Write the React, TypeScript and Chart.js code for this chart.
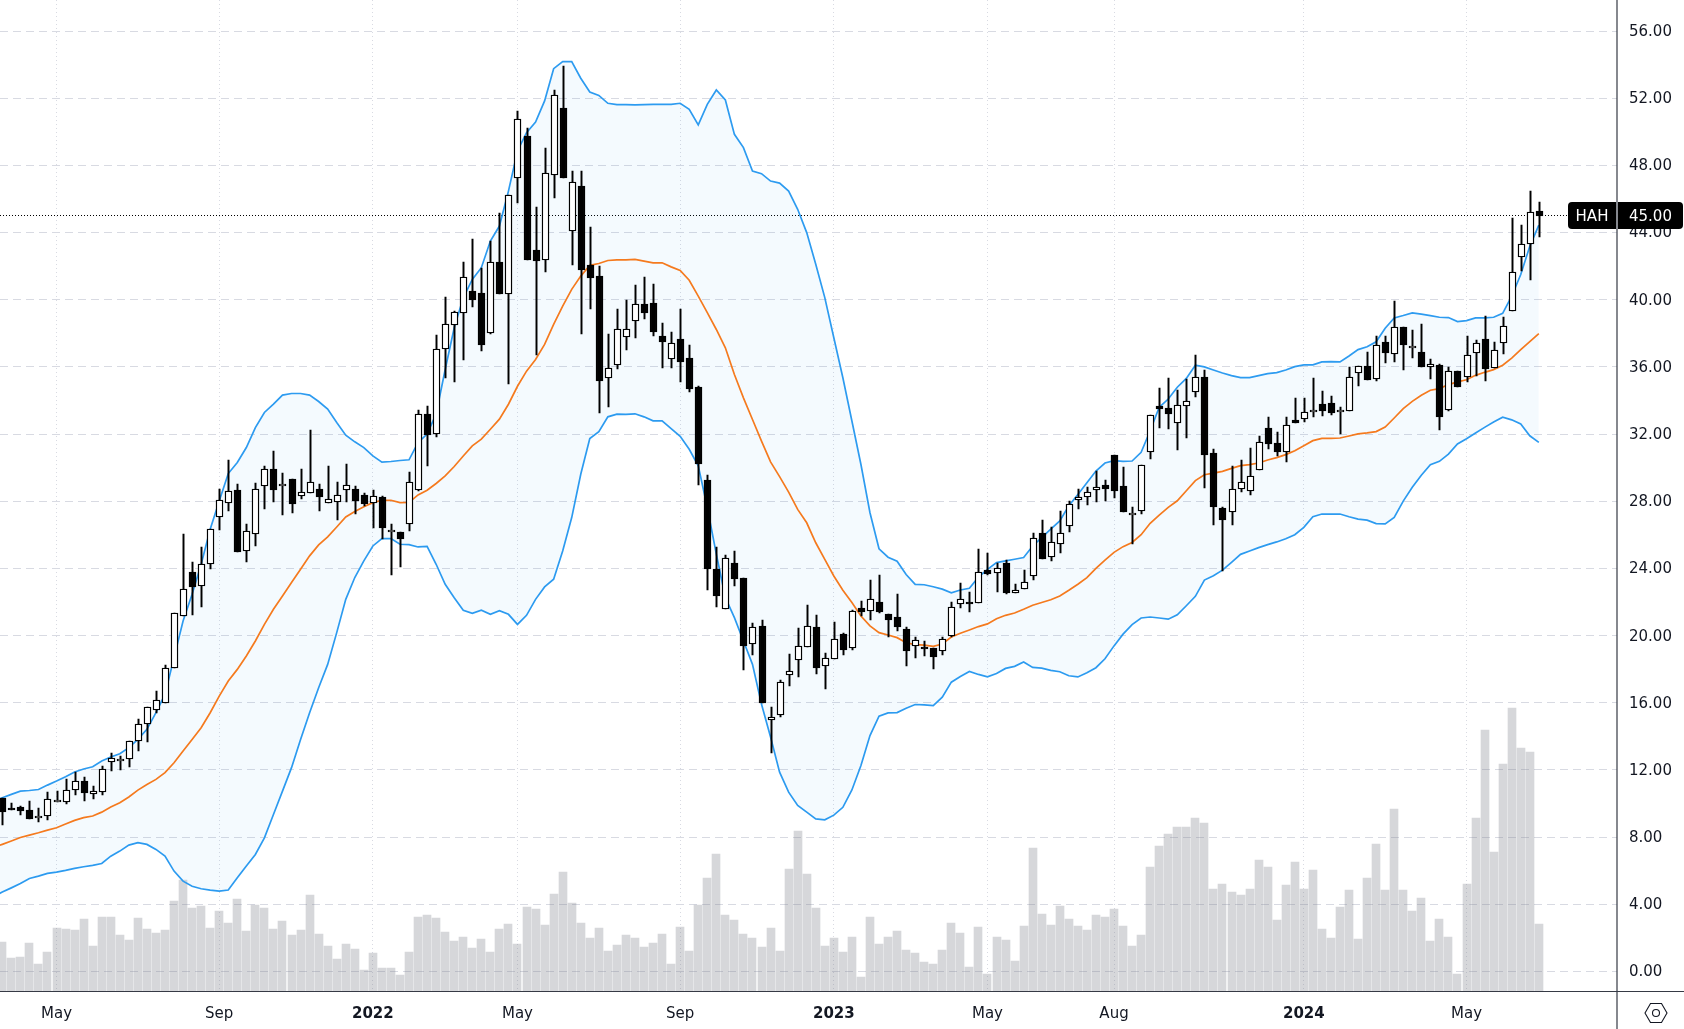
import React, { useEffect, useRef } from "react";
import { Chart, registerables } from "chart.js";

Chart.register(...registerables);

const symbol = "HAH";
const lastPrice = 45.0;

const monthTickIndex = [6, 24, 41, 57, 75, 92, 109, 123, 144, 162];
const monthTickLabel = ["May", "Sep", "2022", "May", "Sep", "2023", "May", "Aug", "2024", "May"];
const priceTicks = [0, 4, 8, 12, 16, 20, 24, 28, 32, 36, 40, 44, 48, 52, 56];

const opens = [
  10.31,9.71,9.79,9.61,9.26,9.27,10.07,10.11,10.82,11.34,
  10.59,10.71,12.49,12.51,12.67,13.70,14.72,15.55,15.97,18.09,
  21.15,23.79,22.94,24.25,27.05,27.88,28.68,25.02,26.04,28.90,
  29.91,29.00,29.31,28.30,28.48,28.72,27.88,27.94,28.66,28.72,
  28.36,27.88,28.24,26.20,26.16,26.63,28.70,33.17,31.98,37.04,
  38.47,39.19,40.50,40.38,38.05,42.22,40.32,47.23,49.73,42.94,
  42.34,47.41,51.40,44.07,46.75,42.05,41.39,35.37,36.09,37.76,
  38.71,39.72,39.78,37.87,36.50,37.64,36.56,34.78,29.26,23.95,
  21.57,24.31,23.42,19.48,20.56,14.96,15.29,17.64,18.53,19.30,
  20.50,18.17,18.59,20.08,19.25,21.63,21.45,21.99,21.27,21.09,
  20.38,19.36,19.30,19.25,19.07,20.00,21.87,21.99,21.93,23.89,
  23.71,24.31,22.52,22.76,23.54,26.10,24.67,25.44,26.51,28.06,
  28.24,28.66,28.97,30.76,28.91,27.18,27.42,30.93,33.68,33.56,
  32.66,33.66,34.51,35.40,30.88,27.60,27.36,28.73,28.61,29.86,
  32.37,31.47,30.93,32.84,32.90,33.34,33.80,33.86,33.32,33.38,
  35.64,36.06,35.28,37.49,36.78,38.36,37.15,36.91,36.02,36.14,
  33.43,35.78,35.42,36.85,37.68,35.96,37.45,39.35,42.57,43.35,
  45.31,
];

const closes = [
  9.51,9.63,9.55,9.10,9.29,10.25,10.19,10.78,11.34,10.65,
  10.72,12.04,12.69,12.63,13.70,14.72,15.73,16.15,18.05,21.33,
  22.76,22.92,24.25,26.34,28.06,28.60,25.00,26.22,28.72,29.91,
  28.66,29.04,27.83,28.54,29.14,28.28,28.12,28.36,28.96,28.04,
  27.81,28.30,26.38,26.24,25.78,29.14,33.17,31.96,37.04,38.53,
  39.30,41.33,40.00,37.32,42.22,40.36,46.22,50.74,42.38,42.32,
  47.53,52.17,47.27,46.99,41.79,41.31,35.17,35.91,38.23,38.23,
  39.72,39.23,38.09,37.50,37.40,36.31,34.70,30.23,23.99,22.38,
  24.61,23.40,19.40,20.50,16.01,15.13,17.22,17.87,19.36,20.56,
  18.09,18.65,19.78,19.17,21.45,21.43,22.16,21.39,20.95,20.54,
  19.11,19.72,19.19,18.75,19.78,21.69,22.16,21.91,23.77,23.69,
  24.01,22.56,22.70,23.18,25.80,24.59,25.56,26.10,27.82,28.24,
  28.54,28.84,28.71,28.59,27.34,27.22,30.16,33.14,33.48,33.18,
  33.74,33.97,35.40,30.74,27.64,26.86,28.73,29.15,29.51,31.53,
  31.39,30.92,32.54,32.64,33.32,33.38,33.36,33.24,33.36,35.40,
  36.06,35.22,37.31,36.81,38.39,37.31,37.27,36.00,36.20,33.02,
  35.78,34.82,36.73,37.45,35.88,37.03,38.46,41.67,43.35,45.25,
  45.00,
];

const highs = [
  10.31,10.03,9.83,10.15,9.75,10.71,10.74,11.48,11.88,11.58,
  11.04,12.23,13.01,12.83,13.70,15.03,15.73,16.70,18.25,21.33,
  26.06,24.39,25.28,26.34,28.74,30.47,29.02,26.65,29.08,30.09,
  31.00,29.69,29.31,29.91,32.25,29.02,30.11,29.16,30.23,28.90,
  28.48,28.66,28.32,26.65,26.16,29.75,33.43,33.66,37.89,40.16,
  39.36,42.24,43.61,41.91,43.50,45.14,46.22,51.24,50.21,45.50,
  49.04,52.47,53.90,47.65,47.65,44.31,41.99,37.99,39.44,39.96,
  40.87,41.33,40.91,38.59,38.11,39.48,37.28,34.84,29.57,25.26,
  24.79,25.02,23.42,20.73,20.91,15.73,17.34,18.89,20.44,21.81,
  21.21,18.95,20.79,20.14,21.51,22.05,23.30,23.59,21.27,22.46,
  20.50,19.90,19.66,19.25,19.90,21.99,23.12,22.58,25.14,24.91,
  24.31,24.49,23.06,23.89,26.10,26.87,26.45,27.41,28.00,28.72,
  28.84,29.79,29.29,30.76,30.06,27.64,30.16,33.14,34.77,35.36,
  34.65,35.30,36.74,35.84,31.13,27.68,30.12,30.48,31.19,31.89,
  33.04,32.15,33.02,34.18,34.18,35.36,34.59,34.27,33.64,36.00,
  36.06,36.89,37.85,37.87,39.91,38.36,38.18,38.58,36.49,36.20,
  36.02,35.78,37.82,37.62,39.06,37.51,39.00,44.85,44.44,46.50,
  45.80,
];

const lows = [
  8.72,9.63,9.31,9.10,8.92,9.02,10.07,9.99,10.51,10.17,
  10.29,10.53,11.94,12.00,12.17,13.15,13.68,15.39,15.97,18.09,
  21.15,21.25,21.73,23.99,26.30,27.43,25.00,24.41,25.36,27.57,
  27.98,27.21,27.33,28.16,28.48,27.43,27.88,26.91,27.98,27.27,
  27.73,26.43,25.74,23.63,24.11,26.24,28.62,30.11,31.84,35.35,
  35.11,36.43,39.58,36.96,37.97,40.36,34.99,45.78,42.38,36.72,
  41.67,46.08,47.27,42.09,37.97,39.46,33.27,33.62,35.89,37.02,
  37.74,38.87,37.85,35.95,35.95,35.11,34.52,28.98,22.74,21.73,
  21.57,22.98,17.97,18.87,16.01,12.99,15.17,17.02,17.56,19.30,
  17.74,16.84,18.59,18.87,19.13,21.19,20.95,21.33,19.94,20.30,
  18.21,18.69,18.81,18.03,18.87,19.90,21.67,21.43,21.93,23.59,
  22.62,22.50,22.52,22.76,23.34,24.59,24.47,24.93,26.20,27.57,
  27.75,27.98,28.03,28.17,27.34,25.43,27.22,30.50,32.35,32.29,
  31.03,31.75,34.19,28.77,26.57,23.84,26.57,28.53,28.35,29.86,
  31.09,30.72,30.32,32.64,32.70,33.00,33.10,33.14,32.03,33.38,
  34.85,35.22,35.16,36.22,36.29,35.82,36.53,36.00,35.28,32.24,
  33.37,34.82,35.10,35.48,35.16,35.96,36.77,39.35,41.72,41.18,
  43.74,
];

const volumes = [
  2.94,1.99,2.05,2.88,1.63,2.34,3.77,3.71,3.65,4.31,
  2.70,4.43,4.43,3.36,3.06,4.37,3.71,3.48,3.65,5.38,
  6.63,4.97,5.08,3.77,4.79,4.07,5.50,3.59,5.18,4.97,
  3.71,4.19,3.36,3.65,5.74,3.42,2.70,1.93,2.82,2.52,
  1.27,2.28,1.39,1.39,0.97,2.34,4.43,4.55,4.37,3.54,
  3.00,3.24,2.58,3.12,2.34,3.71,4.01,2.82,5.02,4.91,
  3.95,5.80,7.11,5.26,4.07,3.18,3.77,2.40,2.76,3.36,
  3.18,2.64,2.88,3.42,1.63,3.83,2.40,5.18,6.75,8.18,
  4.55,4.25,3.42,3.18,2.64,3.77,2.40,7.29,9.55,6.99,
  4.97,2.70,3.18,2.34,3.24,0.85,4.43,2.82,3.24,3.59,
  2.46,2.28,1.75,1.63,2.46,4.07,3.48,1.45,3.83,1.03,
  3.24,3.06,1.81,3.89,8.54,4.61,3.95,5.08,4.31,3.89,
  3.65,4.55,4.43,4.91,3.93,2.68,3.34,7.39,8.64,9.35,
  9.77,9.77,10.31,10.01,6.08,6.38,5.90,5.72,6.08,7.86,
  7.39,4.23,6.32,7.69,6.08,7.21,3.75,3.16,5.06,6.02,
  3.10,6.73,8.76,6.02,10.84,6.02,4.77,5.54,2.98,4.29,
  3.22,1.07,6.43,10.31,15.55,8.28,13.53,16.86,14.48,14.24,
  3.99,
];

// Bollinger bands: first value belongs to the week just before the first candle.
const bandUpper = [
  10.15,
  10.35,10.55,10.74,10.78,10.84,11.10,11.34,11.60,11.88,12.06,
  12.19,12.53,12.77,12.97,13.33,13.82,14.42,15.41,16.50,18.69,
  20.87,22.46,24.25,26.34,28.02,29.65,30.31,31.20,32.39,33.29,
  33.78,34.32,34.42,34.42,34.32,33.94,33.49,32.69,31.94,31.54,
  31.20,30.70,30.33,30.37,30.43,30.47,31.50,32.00,33.20,35.85,
  38.33,40.12,41.21,41.91,43.50,44.39,46.47,48.86,49.95,50.58,
  51.84,53.76,54.18,54.18,53.19,52.37,52.17,51.70,51.62,51.62,
  51.61,51.62,51.64,51.64,51.63,51.70,51.34,50.41,51.64,52.49,
  51.90,49.85,49.06,47.67,47.51,47.07,46.95,46.47,45.39,44.00,
  42.11,40.13,37.74,35.36,32.78,30.19,27.32,25.17,24.67,24.43,
  23.64,23.05,23.03,22.91,22.77,22.55,22.72,22.82,23.48,23.95,
  24.35,24.45,24.55,24.65,25.34,25.84,26.34,26.83,27.73,28.40,
  29.10,29.80,30.28,30.42,30.38,30.40,30.92,32.20,33.60,34.09,
  34.79,35.32,36.10,36.00,35.82,35.64,35.48,35.36,35.36,35.48,
  35.60,35.66,35.82,36.02,36.12,36.12,36.30,36.32,36.30,36.65,
  37.03,37.20,37.50,38.30,38.92,39.06,39.22,39.15,39.06,38.96,
  38.94,38.70,38.76,38.92,38.92,38.96,39.19,40.21,41.50,43.18,
  44.44,
];

const bandMiddle = [
  7.38,
  7.57,7.77,7.98,8.12,8.26,8.42,8.56,8.78,9.00,9.16,
  9.26,9.49,9.79,10.05,10.39,10.80,11.14,11.44,11.84,12.43,
  13.13,13.82,14.52,15.41,16.40,17.30,17.99,18.79,19.68,20.67,
  21.57,22.36,23.16,23.95,24.75,25.40,25.88,26.47,27.07,27.39,
  27.67,27.92,28.06,28.06,27.92,27.94,28.38,28.66,29.06,29.51,
  30.07,30.70,31.30,31.70,32.29,32.89,33.78,34.85,35.75,36.44,
  37.34,38.53,39.62,40.62,41.41,42.05,42.16,42.34,42.38,42.38,
  42.40,42.30,42.20,42.20,41.96,41.74,41.16,40.22,39.23,38.23,
  37.14,35.55,34.16,32.87,31.58,30.35,29.47,28.55,27.52,26.72,
  25.53,24.54,23.55,22.70,21.97,21.17,20.58,20.18,20.04,19.88,
  19.58,19.46,19.44,19.36,19.50,19.92,20.14,20.34,20.54,20.70,
  21.01,21.21,21.35,21.57,21.81,21.97,22.14,22.36,22.70,23.06,
  23.45,24.00,24.50,24.96,25.30,25.55,26.01,26.69,27.18,27.64,
  28.03,28.63,29.23,29.58,29.68,29.78,29.96,30.12,30.18,30.28,
  30.46,30.60,30.78,31.01,31.31,31.61,31.75,31.75,31.77,31.89,
  32.01,32.07,32.15,32.42,32.96,33.52,33.95,34.31,34.61,34.71,
  34.95,35.11,35.24,35.50,35.68,35.84,36.10,36.53,37.03,37.51,
  37.98,
];

const bandLower = [
  4.47,
  4.73,4.98,5.24,5.54,5.68,5.84,5.92,6.02,6.14,6.24,
  6.32,6.43,6.87,7.17,7.53,7.67,7.57,7.27,6.87,5.98,
  5.38,5.08,4.93,4.85,4.79,4.85,5.58,6.28,6.97,7.96,
  9.35,10.74,12.14,13.82,15.41,16.90,18.29,20.18,22.16,23.46,
  24.45,25.34,25.78,25.78,25.44,25.42,25.28,25.32,24.25,23.06,
  22.26,21.51,21.33,21.51,21.27,21.49,21.27,20.67,21.21,22.16,
  22.90,23.36,25.04,27.03,29.61,31.74,32.14,33.03,33.19,33.17,
  33.21,33.03,32.79,32.79,32.33,31.87,31.10,30.11,27.63,24.85,
  22.26,21.07,19.68,18.29,15.91,13.96,11.87,10.68,9.89,9.49,
  9.09,9.03,9.31,9.78,10.81,12.27,14.05,15.20,15.40,15.42,
  15.68,15.90,15.88,15.84,16.34,17.23,17.57,17.87,17.69,17.55,
  17.74,18.05,18.17,18.43,18.11,18.07,17.93,17.85,17.61,17.54,
  17.79,18.09,18.62,19.39,20.09,20.66,21.05,21.11,21.05,20.98,
  21.24,21.78,22.34,23.31,23.57,23.90,24.36,24.84,25.04,25.24,
  25.42,25.58,25.77,26.01,26.45,27.08,27.24,27.24,27.24,27.08,
  26.94,26.88,26.67,26.65,27.04,28.01,28.84,29.55,30.18,30.38,
  30.81,31.41,31.73,32.07,32.40,32.72,33.01,32.85,32.60,31.90,
  31.51,
];

const INK = "#131722";
const AXIS_LINE = "#363a45";
const GRID = "#d8dae2";
const BLUE = "#2d9bf0";
const ORANGE = "#f57a1e";
const FONT = "'DejaVu Sans'";

const WIDTH = 1684;
const HEIGHT = 1029;
const Y_AXIS_WIDTH = 67;
const X_AXIS_HEIGHT = 37.5;

const X_MIN = -0.2545;
const X_MAX = 178.65;
const Y_MIN = -1.19;
const Y_MAX = 57.85;

function bandSeries(values: number[]) {
  return values.map((y, i) => ({ x: i - 1, y }));
}

// Hidden scales that round their pixels, so bars land on whole device pixels.
function pixelSnapped(offset: number) {
  return (scale: any) => {
    const proto = Object.getPrototypeOf(scale);
    scale.getPixelForValue = function (value: number) {
      return Math.round(proto.getPixelForValue.call(this, value)) + offset;
    };
  };
}

const overlayPlugin = {
  id: "tvOverlay",
  beforeDatasetsDraw(chart: any) {
    const { ctx, chartArea, scales } = chart;
    const y = Math.floor(scales.y.getPixelForValue(lastPrice));
    ctx.save();
    ctx.strokeStyle = "#000";
    ctx.lineWidth = 1;
    ctx.setLineDash([1, 2]);
    ctx.beginPath();
    ctx.moveTo(chartArea.left, y + 0.5);
    ctx.lineTo(chartArea.right - 50, y + 0.5);
    ctx.stroke();
    ctx.restore();
  },
  afterDraw(chart: any) {
    const { ctx, chartArea, scales } = chart;
    const y = Math.floor(scales.y.getPixelForValue(lastPrice));
    const right = chartArea.right;
    const bottom = chartArea.bottom;
    ctx.save();
    // axis frame
    ctx.strokeStyle = AXIS_LINE;
    ctx.lineWidth = 1.2;
    ctx.beginPath();
    ctx.moveTo(0, bottom);
    ctx.lineTo(WIDTH, bottom);
    ctx.moveTo(right, 0);
    ctx.lineTo(right, HEIGHT);
    ctx.stroke();
    // symbol and price tags
    ctx.fillStyle = "#000";
    ctx.beginPath();
    ctx.roundRect(right - 49, y - 13, 48, 27, [4, 0, 0, 4]);
    ctx.fill();
    ctx.beginPath();
    ctx.roundRect(right + 1, y - 13, 65, 27, [0, 4, 4, 0]);
    ctx.fill();
    ctx.fillStyle = "#fff";
    ctx.font = `15px ${FONT}`;
    ctx.textBaseline = "middle";
    ctx.textAlign = "center";
    ctx.fillText(symbol, right - 25, y + 2);
    ctx.textAlign = "left";
    ctx.fillText(lastPrice.toFixed(2), right + 12, y + 2);
    // settings hexagon
    const cx = right + 39;
    const cy = bottom + 21.5;
    ctx.strokeStyle = INK;
    ctx.lineWidth = 1.1;
    ctx.beginPath();
    ctx.moveTo(cx - 11, cy);
    ctx.lineTo(cx - 5.5, cy - 9.5);
    ctx.lineTo(cx + 5.5, cy - 9.5);
    ctx.lineTo(cx + 11, cy);
    ctx.lineTo(cx + 5.5, cy + 9.5);
    ctx.lineTo(cx - 5.5, cy + 9.5);
    ctx.closePath();
    ctx.stroke();
    ctx.beginPath();
    ctx.arc(cx, cy, 3.5, 0, Math.PI * 2);
    ctx.stroke();
    ctx.restore();
  },
};

export default function App() {
  const canvasRef = useRef<HTMLCanvasElement | null>(null);

  useEffect(() => {
    const canvas = canvasRef.current;
    if (!canvas) return;
    const wicks = highs.map((h, i) => ({ x: i, y: [lows[i], h] }));
    const bodies = opens.map((o, i) => ({ x: i, y: [o, closes[i]] }));
    const bodyFill = opens.map((o, i) => (closes[i] >= o ? "#ffffff" : "#000000"));
    const chart = new Chart(canvas, {
      type: "bar",
      plugins: [overlayPlugin],
      data: {
        datasets: [
          {
            type: "bar",
            label: "Volume",
            xAxisID: "volX",
            yAxisID: "vol",
            data: volumes.map((y, i) => ({ x: i, y })),
            backgroundColor: "rgba(120,123,134,0.3)",
            barThickness: 8,
            grouped: false,
            order: 6,
          },
          {
            type: "line",
            label: "Upper band",
            data: bandSeries(bandUpper),
            borderColor: BLUE,
            borderWidth: 1.7,
            pointRadius: 0,
            tension: 0,
            fill: "+1",
            backgroundColor: "rgba(33,150,243,0.05)",
            order: 4,
          },
          {
            type: "line",
            label: "Lower band",
            data: bandSeries(bandLower),
            borderColor: BLUE,
            borderWidth: 1.7,
            pointRadius: 0,
            tension: 0,
            fill: false,
            order: 5,
          },
          {
            type: "line",
            label: "Middle band",
            data: bandSeries(bandMiddle),
            borderColor: ORANGE,
            borderWidth: 1.7,
            pointRadius: 0,
            tension: 0,
            fill: false,
            order: 3,
          },
          {
            type: "bar",
            label: "Wick",
            xAxisID: "candleX",
            yAxisID: "candleY",
            data: wicks,
            backgroundColor: "#000000",
            barThickness: 1.3,
            grouped: false,
            order: 2,
          },
          {
            type: "bar",
            label: "Body",
            xAxisID: "candleX",
            yAxisID: "candleY",
            data: bodies,
            backgroundColor: bodyFill,
            borderColor: "#000000",
            borderWidth: 1.4,
            borderSkipped: false,
            barThickness: 7,
            minBarLength: 2,
            grouped: false,
            order: 1,
          },
        ],
      } as any,
      options: {
        responsive: false,
        animation: false,
        devicePixelRatio: 1,
        layout: { padding: 0 },
        plugins: { legend: { display: false }, tooltip: { enabled: false } },
        scales: {
          x: {
            type: "linear",
            offset: false,
            min: X_MIN,
            max: X_MAX,
            afterBuildTicks(scale: any) {
              scale.ticks = monthTickIndex.map((value) => ({ value }));
            },
            afterFit(scale: any) {
              scale.height = X_AXIS_HEIGHT;
              scale.paddingLeft = 0;
              scale.paddingRight = 0;
            },
            grid: { color: GRID, drawTicks: false, lineWidth: 1, offset: false },
            border: { display: false, dash: [1, 3] },
            ticks: {
              autoSkip: false,
              maxRotation: 0,
              padding: 14,
              color: INK,
              font: (ctx: any) => ({
                family: FONT,
                size: 15,
                weight: /^\d+$/.test(String(ctx.tick?.label)) ? "bold" : "normal",
              }),
              callback: (value: any) => monthTickLabel[monthTickIndex.indexOf(Number(value))] ?? "",
            },
          },
          y: {
            type: "linear",
            position: "right",
            min: Y_MIN,
            max: Y_MAX,
            afterBuildTicks(scale: any) {
              scale.ticks = priceTicks.map((value) => ({ value }));
            },
            afterFit(scale: any) {
              scale.width = Y_AXIS_WIDTH;
              scale.paddingTop = 0;
              scale.paddingBottom = 0;
            },
            grid: { color: GRID, drawTicks: false, lineWidth: 1 },
            border: { display: false, dash: [8, 5] },
            ticks: {
              padding: 12,
              labelOffset: 1,
              color: INK,
              font: { family: FONT, size: 15 },
              callback: (value: any) => Number(value).toFixed(2),
            },
          },
          candleX: {
            type: "linear",
            axis: "x",
            offset: false,
            display: false,
            min: X_MIN,
            max: X_MAX,
            afterDataLimits: pixelSnapped(0.5),
          },
          candleY: {
            type: "linear",
            axis: "y",
            display: false,
            min: Y_MIN,
            max: Y_MAX,
            afterDataLimits: pixelSnapped(0),
          },
          volX: {
            type: "linear",
            axis: "x",
            offset: false,
            display: false,
            min: X_MIN,
            max: X_MAX,
            afterDataLimits: pixelSnapped(0),
          },
          vol: {
            type: "linear",
            axis: "y",
            display: false,
            min: 0,
            max: 59.04,
            afterDataLimits: pixelSnapped(0),
          },
        },
      } as any,
    });
    return () => chart.destroy();
  }, []);

  return (
    <div style={{ position: "fixed", left: 0, top: 0, width: WIDTH, height: HEIGHT, background: "#fff" }}>
      <canvas ref={canvasRef} width={WIDTH} height={HEIGHT} style={{ display: "block", width: WIDTH, height: HEIGHT }} />
    </div>
  );
}
